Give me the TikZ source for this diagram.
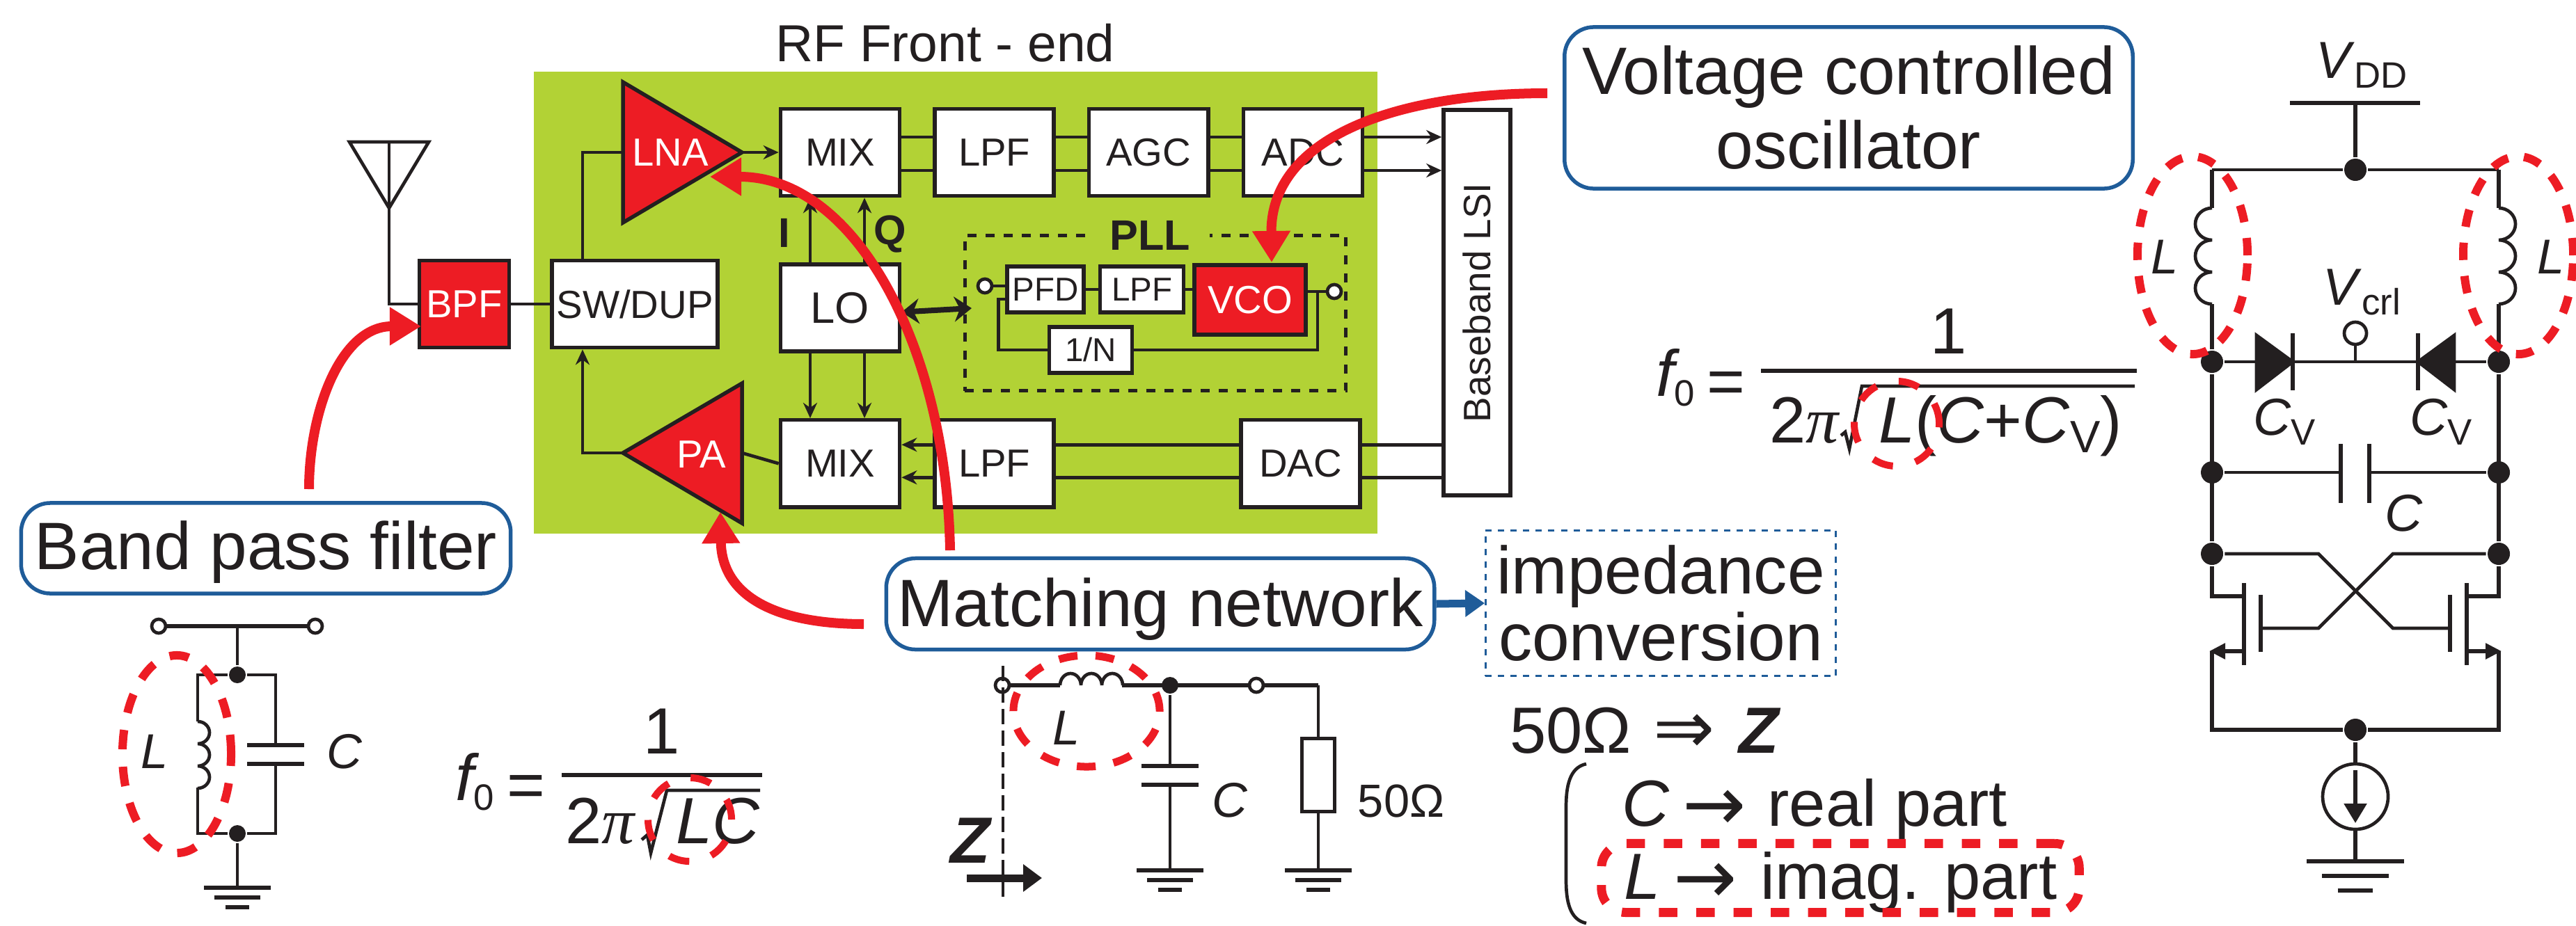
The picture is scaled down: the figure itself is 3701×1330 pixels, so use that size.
\documentclass[tikz,border=0pt]{standalone}
\usepackage{fontspec}
\setmainfont{Liberation Sans}
\newfontfamily\symfont{DejaVu Sans}
\newfontfamily\greekfont{Liberation Serif}
\usetikzlibrary{positioning}
\usetikzlibrary{arrows.meta}
\definecolor{inkblack}{HTML}{231F20}
\definecolor{redmark}{HTML}{ED1C24}
\definecolor{rfgreen}{HTML}{B2D235}
\definecolor{noteblue}{HTML}{1F5C99}
\newcommand{\subtxt}[2][15]{\raisebox{-4.2pt}{\fontsize{#1}{#1}\selectfont #2}}
\newcommand{\longarrow}{\raisebox{-1.7pt}{\symfont\fontsize{31}{31}\selectfont →}}
\newcommand{\gndmark}[3]{%
  \draw[plate] (#1) ++(-#2,0) -- ++(2*#2,0);
  \draw[plate] (#1) ++(-0.68*#2,#3) -- ++(1.36*#2,0);
  \draw[plate] (#1) ++(-0.36*#2,2*#3) -- ++(0.72*#2,0);
}
\begin{document}
\begin{tikzpicture}[x=0.01cm,y=-0.01cm,color=inkblack,line width=0.047cm,node distance=0.45cm,
  >={Stealth[length=0.22cm,width=0.2cm]},
  blockbox/.style={draw,fill=white,line width=0.055cm,inner sep=0pt,minimum width=1.71cm,minimum height=1.25cm,font=\fontsize{16}{18}\selectfont},
  redbox/.style={blockbox,fill=redmark,text=white},
  smallbox/.style={blockbox,font=\fontsize{13.5}{15}\selectfont,minimum height=0.66cm},
  notebox/.style={draw=noteblue,fill=white,line width=0.055cm,rounded corners=0.42cm,inner sep=0pt,align=center,hugetxt},
  hugetxt/.style={font=\fontsize{27.4}{30.4}\selectfont},
  midtxt/.style={font=\fontsize{20}{22}\selectfont},
  listtxt/.style={font=\fontsize{26.7}{30}\selectfont},
  dotnode/.style={circle,fill,inner sep=0pt,minimum size=0.24cm},
  bigdot/.style={dotnode,minimum size=0.32cm},
  termnode/.style={circle,draw,fill=white,inner sep=0pt,minimum size=0.2cm},
  plate/.style={line width=0.055cm},
  pointer/.style={draw=redmark,line width=0.14cm,-{Triangle[length=0.45cm,width=0.52cm]}},
  ringmark/.style={draw=redmark,line width=0.12cm,dash pattern=on 0.28cm off 0.25cm},
  thinring/.style={draw=redmark,line width=0.1cm,dash pattern=on 0.3cm off 0.33cm}]
  \useasboundingbox (0,0) rectangle (3701,1330);
  %
  \node[fill=rfgreen,inner sep=0pt,minimum width=12.12cm,minimum height=6.64cm] (frontend) at (1373,435) {};
  \node[font=\fontsize{21.3}{24}\selectfont,anchor=base] (rftitle) at (1358,88) {RF Front - end};
  %
  % receive and transmit rows
  \node[blockbox] (mixtx) at (1207,219) {MIX};
  \node[blockbox] (lpftx) [right=of mixtx] {LPF};
  \node[blockbox] (agc)   [right=of lpftx] {AGC};
  \node[blockbox] (adc)   [right=of agc]   {ADC};
  \node[blockbox] (lo)    [below=0.93cm of mixtx] {\fontsize{18}{20}\selectfont LO};
  \node[blockbox] (mixrx) [below=0.93cm of lo] {MIX};
  \node[blockbox] (lpfrx) [right=of mixrx] {LPF};
  \node[blockbox] (dac)   [right=2.63cm of lpfrx] {DAC};
  \node[blockbox,minimum width=2.38cm] (swdup) at (912,437) {SW/DUP};
  \node[redbox,minimum width=1.29cm] (bpf) [left=0.56cm of swdup] {BPF};
  \node[blockbox,minimum width=0.96cm,minimum height=5.54cm] (baseband) at (2122,435) {};
  \node[font=\fontsize{15.6}{18}\selectfont,rotate=90] (bblabel) at (baseband) {Baseband LSI};
  %
  % amplifiers
  \coordinate (lnain) at (895,219);
  \coordinate (lnaout) at (1066,219);
  \coordinate (paout) at (1066,651);
  \coordinate (pain) at (895,651);
  \filldraw[fill=redmark,line width=0.055cm] (895,118) -- (lnaout) -- (895,320) -- cycle;
  \filldraw[fill=redmark,line width=0.055cm] (1066,551) -- (pain) -- (1066,752) -- cycle;
  \node[text=white,font=\fontsize{16}{18}\selectfont] (lnalabel) at (963,219) {LNA};
  \node[text=white,font=\fontsize{16}{18}\selectfont] (palabel) at (1008,653) {PA};
  %
  % antenna
  \coordinate (anttop) at (559,204);
  \coordinate (anttip) at (559,299);
  \draw (502,204) -- (616,204) -- (anttip) -- cycle;
  \draw (anttop) -- (anttip);
  \draw (anttip) |- (bpf.west);
  \draw (bpf.east) -- (swdup.west);
  \draw ([xshift=-0.75cm]swdup.north) |- (lnain);
  \draw[->] (pain) -| ([xshift=-0.75cm]swdup.south);
  \draw[->] (lnaout) -- (mixtx.west);
  \draw (mixrx.west) -- (paout);
  %
  % data paths
  \draw ([yshift=0.22cm]mixtx.east) -- ([yshift=0.22cm]lpftx.west);
  \draw ([yshift=0.22cm]lpftx.east) -- ([yshift=0.22cm]agc.west);
  \draw ([yshift=0.22cm]agc.east) -- ([yshift=0.22cm]adc.west);
  \draw[->] ([yshift=0.22cm]adc.east) -- ([yshift=0.22cm]adc.east -| baseband.west);
  \draw ([yshift=-0.26cm]mixtx.east) -- ([yshift=-0.26cm]lpftx.west);
  \draw ([yshift=-0.26cm]lpftx.east) -- ([yshift=-0.26cm]agc.west);
  \draw ([yshift=-0.26cm]agc.east) -- ([yshift=-0.26cm]adc.west);
  \draw[->] ([yshift=-0.26cm]adc.east) -- ([yshift=-0.26cm]adc.east -| baseband.west);
  \draw ([yshift=0.27cm]dac.east -| baseband.west) -- ([yshift=0.27cm]dac.east);
  \draw ([yshift=0.27cm]dac.west) -- ([yshift=0.27cm]lpfrx.east);
  \draw[->] ([yshift=0.27cm]lpfrx.west) -- ([yshift=0.27cm]mixrx.east);
  \draw ([yshift=-0.2cm]dac.east -| baseband.west) -- ([yshift=-0.2cm]dac.east);
  \draw ([yshift=-0.2cm]dac.west) -- ([yshift=-0.2cm]lpfrx.east);
  \draw[->] ([yshift=-0.2cm]lpfrx.west) -- ([yshift=-0.2cm]mixrx.east);
  \draw[->] ([xshift=-0.43cm]lo.north) -- ([xshift=-0.43cm]mixtx.south);
  \draw[->] ([xshift=0.35cm]lo.north) -- ([xshift=0.35cm]mixtx.south);
  \draw[->] ([xshift=-0.43cm]lo.south) -- ([xshift=-0.43cm]mixrx.north);
  \draw[->] ([xshift=0.35cm]lo.south) -- ([xshift=0.35cm]mixrx.north);
  \node[font=\bfseries\fontsize{17}{19}\selectfont] (ilabel) at (1127,335) {I};
  \node[font=\bfseries\fontsize{17}{19}\selectfont] (qlabel) at (1279,337) {Q};
  %
  % PLL
  \node[draw,line width=0.055cm,dash pattern=on 0.13cm off 0.13cm,inner sep=0pt,minimum width=5.47cm,minimum height=2.23cm] (pllbox) at (1660,450) {};
  \node[fill=rfgreen,inner sep=0pt,minimum width=1.71cm,minimum height=0.3cm,font=\bfseries\fontsize{17.4}{19}\selectfont] (plllabel) at (1652,338) {PLL};
  \node[smallbox,minimum width=1.1cm] (pfd) at (1502,416) {PFD};
  \node[smallbox,minimum width=1.2cm] (lpfpll) [right=0.18cm of pfd] {LPF};
  \node[redbox,minimum width=1.6cm,minimum height=1cm] (vco) at (1796,431) {VCO};
  \node[smallbox,minimum width=1.19cm] (divider) at (1567,503) {1/N};
  \node[termnode] (pllin) at (1415,411) {};
  \node[termnode] (pllout) at (1917,419) {};
  \coordinate (vcotap) at (1893,419);
  \coordinate (lport) at (1396,443);
  \draw (pllin) -- (pllin -| pfd.west);
  \draw (pfd.east) -- (lpfpll.west);
  \draw (lpfpll.east) -- (lpfpll.east -| vco.west);
  \draw (pllout -| vco.east) -- (pllout);
  \draw (vcotap) |- (divider.east);
  \draw (divider.west) -| ([xshift=-0.1cm,yshift=-0.14cm]pfd.west) -- ([yshift=-0.14cm]pfd.west);
  \draw[line width=0.08cm,{Stealth[length=0.25cm,width=0.36cm]}-{Stealth[length=0.25cm,width=0.36cm]}] ([yshift=-0.06cm]lo.east) -- (lport);
  %
  % band pass circuit
  \node[termnode] (lcin) at (228,900) {};
  \node[termnode] (lcout) at (453,900) {};
  \node[dotnode] (lctop) at (341,970) {};
  \node[dotnode] (lcbot) at (341,1198) {};
  \coordinate (lcstem) at (341,900);
  \coordinate (lcgnd) at (341,1276);
  \coordinate (coiltop) at (284,1037);
  \coordinate (coilbot) at (284,1132);
  \coordinate (captop) at (396,1071);
  \coordinate (capbot) at (396,1098);
  \draw[plate] (lcin) -- (lcout);
  \draw (lcstem) -- (lctop);
  \draw (lctop) -| (coiltop);
  \draw (lcbot) -| (coilbot);
  \draw (lctop) -| (captop);
  \draw (lcbot) -| (capbot);
  \draw (lcbot) -- (lcgnd);
  \draw (coiltop) arc[start angle=90,end angle=-90,x radius=0.17cm,y radius=0.16cm] arc[start angle=90,end angle=-90,x radius=0.17cm,y radius=0.16cm] arc[start angle=90,end angle=-90,x radius=0.17cm,y radius=0.16cm];
  \draw[plate] ([xshift=-0.41cm]captop) -- ([xshift=0.41cm]captop);
  \draw[plate] ([xshift=-0.41cm]capbot) -- ([xshift=0.41cm]capbot);
  \gndmark{lcgnd}{48}{14}
  \node[midtxt,font=\itshape\fontsize{20}{22}\selectfont] (lcl) at (222,1080) {L};
  \node[midtxt,font=\itshape\fontsize{20}{22}\selectfont] (lcc) at (495,1080) {C};
  \draw[ringmark] (254,1084) ellipse [x radius=0.78cm,y radius=1.42cm];
  %
  % first formula
  \node[listtxt,anchor=base west] (fa) at (640,1150) {\textit{f}\kern-0.08em\subtxt{0}};
  \node[listtxt,anchor=base] (eqa) at (756,1160) {=};
  \node[listtxt,anchor=base] (numa) at (951,1083) {1};
  \node[listtxt,anchor=base west] (dena) at (798,1212) {2{\greekfont\itshape π}};
  \node[listtxt,anchor=base west] (rada) at (957,1212) {\textit{LC}};
  \coordinate (barastart) at (807,1114);
  \coordinate (baraend) at (1095,1114);
  \draw[plate] (barastart) -- (baraend);
  \draw (922,1207) -- (930,1200) -- (935,1226) -- (958,1136) -- (1092,1136);
  \draw[thinring] (991,1178) circle [radius=0.6cm];
  %
  % matching circuit
  \node[termnode] (matchin) at (1440,985) {};
  \node[dotnode] (matchdot) at (1681,985) {};
  \node[termnode] (matchout) at (1805,985) {};
  \node[draw,line width=0.055cm,inner sep=0pt,minimum width=0.47cm,minimum height=1.05cm] (rload) at (1894,1114) {};
  \coordinate (mcoilin) at (1523,985);
  \coordinate (mcoilout) at (1612,985);
  \coordinate (mturn) at (1894,985);
  \coordinate (mcaptop) at (1681,1101);
  \coordinate (mcapbot) at (1681,1128);
  \coordinate (mgndc) at (1681,1251);
  \coordinate (mgndr) at (1894,1251);
  \coordinate (zsweeptop) at (1441,957);
  \coordinate (zsweepbot) at (1441,1290);
  \draw[plate] (matchin) -- (mcoilin);
  \draw[plate] (mcoilout) -- (matchout);
  \draw[plate] (matchout) -- (mturn);
  \draw (mcoilin) arc[start angle=180,end angle=0,x radius=0.15cm,y radius=0.17cm] arc[start angle=180,end angle=0,x radius=0.15cm,y radius=0.17cm] arc[start angle=180,end angle=0,x radius=0.15cm,y radius=0.17cm];
  \draw (mturn) -- (rload.north);
  \draw (rload.south) -- (mgndr);
  \draw (matchdot) -- (mcaptop);
  \draw (mcapbot) -- (mgndc);
  \draw[plate] ([xshift=-0.41cm]mcaptop) -- ([xshift=0.41cm]mcaptop);
  \draw[plate] ([xshift=-0.41cm]mcapbot) -- ([xshift=0.41cm]mcapbot);
  \gndmark{mgndc}{48}{14}
  \gndmark{mgndr}{48}{14}
  \draw[dash pattern=on 0.22cm off 0.09cm] (zsweeptop) -- (zsweepbot);
  \node[font=\itshape\fontsize{20}{22}\selectfont] (ml) at (1532,1046) {L};
  \node[font=\itshape\fontsize{20}{22}\selectfont] (mc) at (1767,1150) {C};
  \node[font=\fontsize{19}{21}\selectfont] (mr) at (2013,1151) {50Ω};
  \node[font=\bfseries\itshape\fontsize{26.7}{30}\selectfont,inner sep=0pt] (bigz) at (1394,1208) {Z};
  \coordinate (zarrowa) at (1389,1262);
  \coordinate (zarrowb) at (1497,1262);
  \draw[line width=0.11cm,-{Triangle[length=0.27cm,width=0.38cm]}] (zarrowa) -- (zarrowb);
  \draw[thinring,line width=0.11cm,dash pattern=on 0.27cm off 0.26cm] (1561,1022) ellipse [x radius=1.05cm,y radius=0.8cm];
  %
  % impedance notes
  \node[draw=noteblue,line width=0.025cm,dash pattern=on 0.09cm off 0.09cm,inner sep=0pt,minimum width=5.03cm,minimum height=2.09cm,align=center,font=\fontsize{27.4}{27.3}\selectfont] (impbox) at (2386,867) {impedance\\conversion};
  \node[listtxt,anchor=base west] (fiftyo) at (2155,1082) {50Ω};
  \node[font=\symfont\fontsize{30}{32}\selectfont,anchor=base] (impliesto) at (2420,1082) {⇒};
  \node[listtxt,anchor=base] (fiftyz) at (2529,1082) {\textbf{\textit{Z}}};
  \draw (2279,1098) .. controls (2255,1103) and (2250,1130) .. (2250,1160) -- (2250,1265) .. controls (2250,1295) and (2255,1322) .. (2279,1327);
  \node[listtxt,anchor=base west] (realtxt) at (2316,1187) {\textit{C}\kern0.2em\longarrow\kern0.33em real part};
  \node[listtxt,anchor=base west] (imagtxt) at (2319,1292) {\textit{L}\kern0.2em\longarrow\kern0.36em imag. part};
  \node[draw=redmark,line width=0.13cm,dash pattern=on 0.265cm off 0.27cm,rounded corners=0.35cm,inner sep=0pt,minimum width=6.86cm,minimum height=0.99cm] (imagmark) at (2644,1262) {};
  %
  % second formula
  \node[listtxt,anchor=base west] (fb) at (2365,569) {\textit{f}\kern-0.08em\subtxt{0}};
  \node[listtxt,anchor=base] (eqb) at (2480,580) {=};
  \node[listtxt,anchor=base] (numb) at (2800,508) {1};
  \node[listtxt,anchor=base west] (denb) at (2528,636) {2{\greekfont\itshape π}};
  \node[listtxt,anchor=base west] (radb) at (2685,636) {\textit{L}(\textit{C}+\textit{C}\subtxt[18.5]{V})};
  \coordinate (barbstart) at (2530,533);
  \coordinate (barbend) at (3070,533);
  \draw[plate] (barbstart) -- (barbend);
  \draw (2645,626) -- (2651,621) -- (2657,645) -- (2675,555) -- (3067,555);
  \draw[thinring] (2725,609) circle [radius=0.61cm];
  %
  % oscillator core
  \node[font=\itshape\fontsize{21.3}{24}\selectfont,anchor=base] (vdd) at (3393,112) {V\textup{\subtxt{DD}}};
  \node[font=\itshape\fontsize{21.3}{24}\selectfont,anchor=base] (vcrllabel) at (3393,438) {V\textup{\subtxt{crl}}};
  \coordinate (vddbar) at (3384,148);
  \node[bigdot] (railtop) at (3384,244) {};
  \node[bigdot] (leftv) at (3178,520) {};
  \node[bigdot] (rightv) at (3590,520) {};
  \node[bigdot] (leftc) at (3178,679) {};
  \node[bigdot] (rightc) at (3590,679) {};
  \node[bigdot] (leftx) at (3178,796) {};
  \node[bigdot] (rightx) at (3590,796) {};
  \node[bigdot] (railbot) at (3384,1049) {};
  \node[termnode,minimum size=0.32cm] (vcrl) at (3384,479) {};
  \node[draw,circle,inner sep=0pt,minimum size=0.94cm] (isrc) at (3384,1145) {};
  \coordinate (tailgnd) at (3384,1238);
  \coordinate (lcoiltop) at (3178,299);
  \coordinate (lcoilbot) at (3178,437);
  \coordinate (rcoiltop) at (3590,299);
  \coordinate (rcoilbot) at (3590,437);
  \coordinate (lcornertop) at (3178,244);
  \coordinate (rcornertop) at (3590,244);
  \draw[plate] (3290,148) -- (3477,148);
  \draw[plate] (vddbar) -- (railtop);
  \draw (railtop) -- (lcornertop);
  \draw (railtop) -- (rcornertop);
  \draw[plate] (lcornertop) -- (lcoiltop);
  \draw[plate] (rcornertop) -- (rcoiltop);
  \draw (lcoiltop) arc[start angle=90,end angle=270,x radius=0.24cm,y radius=0.23cm] arc[start angle=90,end angle=270,x radius=0.24cm,y radius=0.23cm] arc[start angle=90,end angle=270,x radius=0.24cm,y radius=0.23cm];
  \draw (rcoiltop) arc[start angle=90,end angle=-90,x radius=0.24cm,y radius=0.23cm] arc[start angle=90,end angle=-90,x radius=0.24cm,y radius=0.23cm] arc[start angle=90,end angle=-90,x radius=0.24cm,y radius=0.23cm];
  \draw[plate] (lcoilbot) -- (leftv);
  \draw[plate] (rcoilbot) -- (rightv);
  \draw[plate] (leftv) -- (leftx);
  \draw[plate] (rightv) -- (rightx);
  % varactors
  \coordinate (varmid) at (3384,520);
  \draw (leftv) -- (rightv);
  \draw (vcrl) -- (varmid);
  \filldraw (3242,482) -- (3294,520) -- (3242,560) -- cycle;
  \filldraw (3526,482) -- (3474,520) -- (3526,560) -- cycle;
  \draw[plate] (3294,479) -- (3294,561);
  \draw[plate] (3474,479) -- (3474,561);
  \node[font=\itshape\fontsize{21.3}{24}\selectfont,anchor=base] (cvleft) at (3282,625) {C\textup{\subtxt{V}}};
  \node[font=\itshape\fontsize{21.3}{24}\selectfont,anchor=base] (cvright) at (3507,625) {C\textup{\subtxt{V}}};
  % tank capacitor
  \coordinate (ctankl) at (3363,679);
  \coordinate (ctankr) at (3404,679);
  \draw (leftc) -- (ctankl);
  \draw (rightc) -- (ctankr);
  \draw[plate] (3363,638) -- (3363,723);
  \draw[plate] (3404,638) -- (3404,723);
  \node[font=\itshape\fontsize{21.3}{24}\selectfont] (ctanklabel) at (3453,738) {C};
  % cross coupled pair
  \coordinate (lgate) at (3248,903);
  \coordinate (rgate) at (3520,903);
  \draw (leftx) -- (3331,796) -- (3438,903) -- (rgate);
  \draw (rightx) -- (3438,796) -- (3331,903) -- (lgate);
  \draw[plate] (3248,855) -- (3248,937);
  \draw[plate] (3520,855) -- (3520,937);
  \draw[plate] (3224,838) -- (3224,956);
  \draw[plate] (3544,838) -- (3544,956);
  \draw[plate] (leftx) -- (3178,857) -- (3224,857);
  \draw[plate] (rightx) -- (3590,857) -- (3544,857);
  \draw[plate,-{Triangle[length=0.23cm,width=0.22cm]}] (3224,936) -- (3174,936);
  \draw[plate,-{Triangle[length=0.23cm,width=0.22cm]}] (3544,936) -- (3594,936);
  \draw[plate] (3178,936) -- (3178,1049) -- (railbot);
  \draw[plate] (3590,936) -- (3590,1049) -- (railbot);
  \draw[plate] (railbot) -- (isrc.north);
  \draw[plate,-{Triangle[length=0.28cm,width=0.32cm]}] (3384,1107) -- (3384,1183);
  \draw[plate] (isrc.south) -- (tailgnd);
  \gndmark{tailgnd}{70}{21}
  \node[font=\itshape\fontsize{20}{22}\selectfont] (ltankl) at (3110,369) {L};
  \node[font=\itshape\fontsize{20}{22}\selectfont] (ltankr) at (3665,369) {L};
  \draw[ringmark,dash pattern=on 0.25cm off 0.23cm] (3150,367) ellipse [x radius=0.79cm,y radius=1.42cm];
  \draw[ringmark,dash pattern=on 0.25cm off 0.23cm] (3618,367) ellipse [x radius=0.79cm,y radius=1.42cm];
  %
  % callouts
  \node[notebox,text height=0.8cm,text depth=0.2cm,minimum width=7.03cm,minimum height=1.3cm] (bpfnote) at (382,788) {Band pass filter};
  \node[notebox,text height=0.84cm,text depth=0.2cm,minimum width=7.87cm,minimum height=1.31cm] (matchnote) at (1667,868) {Matching network};
  \node[notebox,minimum width=8.16cm,minimum height=2.32cm] (vconote) at (2656,155) {Voltage controlled\\oscillator};
  \coordinate (bpftip) at (605,469);
  \coordinate (lnatip) at (1020,254);
  \coordinate (patip) at (1035,736);
  \coordinate (vcotip) at (1827,377);
  \coordinate (nettap) at (1365,791);
  \coordinate (pafeed) at (1241,897);
  \coordinate (vcofeed) at (2223,134);
  \coordinate (bpffeed) at (444,703);
  \draw[pointer] (bpffeed) .. controls (444,590) and (490,469) .. (bpftip);
  \draw[pointer] (nettap) .. controls (1360,500) and (1230,254) .. (lnatip);
  \draw[pointer] (pafeed) .. controls (1120,897) and (1037,860) .. (patip);
  \draw[pointer] (vcofeed) .. controls (2000,134) and (1825,200) .. (vcotip);
  \draw[line width=0.11cm,draw=noteblue,-{Triangle[length=0.28cm,width=0.37cm]},color=noteblue] (matchnote.east) -- (impbox.west);
\end{tikzpicture}
\end{document}
